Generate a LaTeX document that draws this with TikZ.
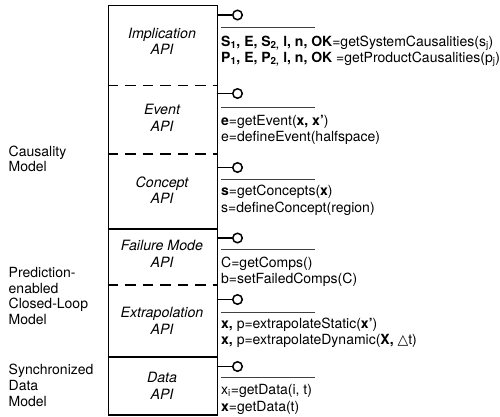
\documentclass[tikz,border=0pt]{standalone}
\usepackage{fontspec}
\setmainfont{TeX Gyre Heros}
\newfontfamily\symfont{DejaVu Sans}
\begin{document}
\begin{tikzpicture}[x=1pt,y=-1pt,
  frame/.style={line width=1.6pt},
  sep/.style={line width=1.5pt, dash pattern=on 10.5pt off 7pt},
  stem/.style={line width=1.5pt},
  ball/.style={circle, draw, line width=1.5pt, minimum size=9.5pt, inner sep=0pt, fill=white},
  bar/.style={line width=0.9pt, black!75},
  api/.style={font=\fontsize{14.2}{16.5}\selectfont\itshape, align=center, inner sep=0pt},
  sig/.style={font=\fontsize{14}{16}\selectfont, anchor=base west, inner sep=0pt},
  model/.style={font=\fontsize{14}{15.7}\selectfont, align=left, anchor=west, inner sep=0pt}]
\useasboundingbox (0,0) rectangle (500,416);

% main box
\node[draw, frame, minimum width=109pt, minimum height=409.5pt, anchor=north west, inner sep=0pt] (box) at (107.5,4.5) {};
\draw[sep] (107.5,85.5) -- (216.5,85.5);
\draw[sep] (107.5,154) -- (216.5,154);
\draw[sep] (107.5,285) -- (216.5,285);
\draw[frame] (107.5,229) -- (216.5,229);
\draw[frame] (107.5,357) -- (216.5,357);

% API labels
\node[api] (impl) at (162,41.5) {Implication\\API};
\node[api] (evt) at (162,118) {Event\\API};
\node[api] (conc) at (162,190) {Concept\\API};
\node[api] (fail) at (162,254) {Failure Mode\\API};
\node[api] (extr) at (162,321) {Extrapolation\\API};
\node[api] (data) at (162,386) {Data\\API};

% lollipops
\foreach \n/\y in {1/15, 2/93.5, 3/167.5, 4/238, 5/299.5, 6/366.5}{
  \coordinate (s\n) at (216.5,\y);
  \node[ball] (b\n) at (237.5,\y) {};
  \draw[stem] (s\n) -- (b\n);
}
\foreach \n/\y in {1/27, 2/107, 3/179.5, 4/249.5, 5/312, 6/377.5}{
  \coordinate (l\n) at (221,\y);
  \coordinate (r\n) at (315,\y);
  \draw[bar] (l\n) -- (r\n);
}

% signatures
\node[sig] (t1a) at (221,46) {\textbf{S\textsubscript{1}, E, S\textsubscript{2,} l, n, OK}=getSystemCausalities(s\textsubscript{j})};
\node[sig] (t1b) at (221,62) {\textbf{P\textsubscript{1}, E, P\textsubscript{2,} l, n, OK} =getProductCausalities(p\textsubscript{j})};
\node[sig] (t2a) at (221,125) {\textbf{e}=getEvent(\textbf{x, x’})};
\node[sig] (t2b) at (221,141) {e=defineEvent(halfspace)};
\node[sig] (t3a) at (221,195) {\textbf{s}=getConcepts(\textbf{x})};
\node[sig] (t3b) at (221,212) {s=defineConcept(region)};
\node[sig] (t4a) at (221,267) {C=getComps()};
\node[sig] (t4b) at (221,283) {b=setFailedComps(C)};
\node[sig] (t5a) at (221,328) {\textbf{x,} p=extrapolateStatic(\textbf{x’})};
\node[sig] (t5b) at (221,344) {\textbf{x,} p=extrapolateDynamic(\textbf{X,} {\symfont △}t)};
\node[sig] (t6a) at (221,394) {x\textsubscript{i}=getData(i, t)};
\node[sig] (t6b) at (221,411) {\textbf{x}=getData(t)};

% model labels
\node[model] (m1) at (8.5,159) {Causality\\Model};
\node[model] (m2) at (8.5,296) {Prediction-\\enabled\\Closed-Loop\\Model};
\node[model] (m3) at (8.5,385.5) {Synchronized\\Data\\Model};
\end{tikzpicture}
\end{document}
